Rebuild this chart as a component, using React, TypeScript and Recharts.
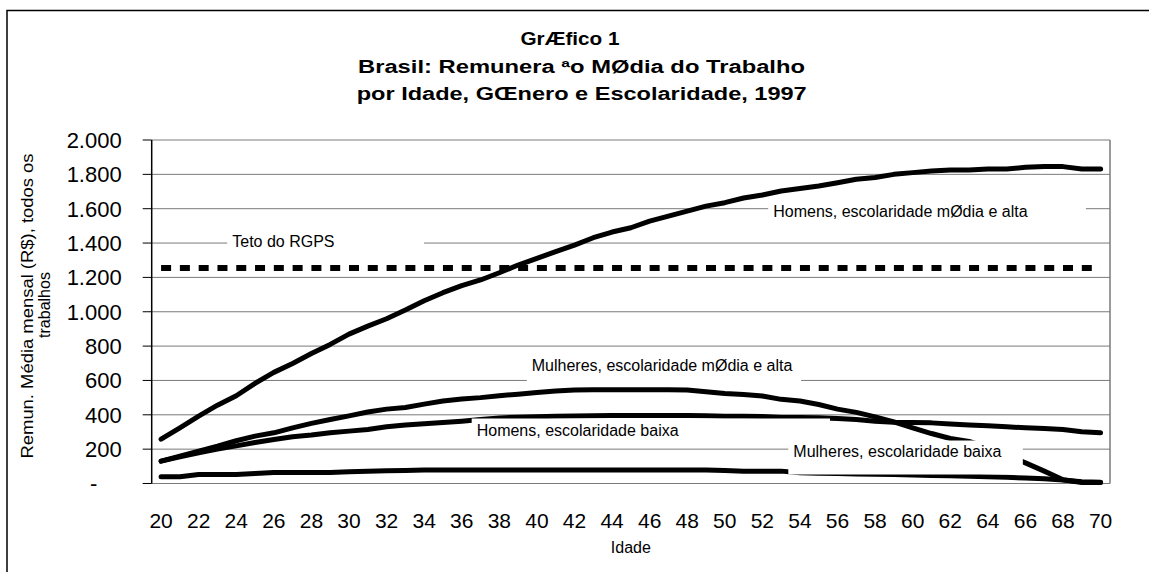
import React from 'react';
import { LineChart, Line, XAxis, YAxis, CartesianGrid, ReferenceArea, ReferenceLine } from 'recharts';

const FONT = 'Liberation Sans, Arial, Helvetica, sans-serif';

// Categories: age in years
const ages = [20, 21, 22, 23, 24, 25, 26, 27, 28, 29, 30, 31, 32, 33, 34, 35, 36, 37, 38, 39, 40, 41, 42, 43, 44, 45,
  46, 47, 48, 49, 50, 51, 52, 53, 54, 55, 56, 57, 58, 59, 60, 61, 62, 63, 64, 65, 66, 67, 68, 69, 70];

// Homens, escolaridade média e alta
const homensMediaAlta = [258, 324, 392, 456, 511, 583, 647, 699, 757, 810, 870, 916, 959, 1010, 1064, 1111, 1152, 1185,
  1227, 1272, 1311, 1350, 1388, 1431, 1464, 1489, 1528, 1557, 1586, 1615, 1635, 1662, 1680, 1703, 1718, 1732, 1751,
  1771, 1782, 1800, 1810, 1819, 1825, 1825, 1831, 1831, 1841, 1845, 1845, 1831, 1831];

// Mulheres, escolaridade média e alta
const mulheresMediaAlta = [130, 159, 188, 217, 249, 276, 295, 324, 350, 373, 394, 416, 433, 443, 462, 480, 492, 500, 511,
  520, 530, 538, 544, 546, 546, 546, 546, 546, 544, 534, 524, 518, 509, 490, 480, 460, 433, 414, 388, 359, 324, 291, 262,
  245, 210, 165, 120, 72, 22, 6, 6];

// Homens, escolaridade baixa
const homensBaixa = [130, 155, 179, 200, 219, 239, 256, 272, 282, 295, 305, 315, 330, 340, 348, 355, 363, 373, 382, 386,
  389, 391, 393, 395, 396, 396, 396, 396, 396, 394, 392, 392, 390, 384, 384, 383, 379, 373, 363, 357, 355, 353, 346, 340,
  336, 330, 324, 320, 315, 301, 295];

// Mulheres, escolaridade baixa
const mulheresBaixa = [39, 39, 52, 52, 52, 58, 64, 64, 64, 64, 68, 72, 74, 76, 78, 78, 78, 78, 78, 78, 78, 78, 78, 78, 78,
  78, 78, 78, 78, 78, 76, 72, 72, 72, 62, 60, 58, 56, 54, 52, 50, 47, 45, 42, 40, 36, 32, 28, 20, 10, 8];

// Teto do RGPS
const tetoRGPS = 1255;

const yTicks = [0, 200, 400, 600, 800, 1000, 1200, 1400, 1600, 1800, 2000];
const xLabelTicks = [20, 22, 24, 26, 28, 30, 32, 34, 36, 38, 40, 42, 44, 46, 48, 50, 52, 54, 56, 58, 60, 62, 64, 66, 68, 70];

const titleLines = [
  'GrÆfico 1',
  'Brasil: Remunera ªo MØdia do Trabalho',
  'por Idade, GŒnero e Escolaridade, 1997',
];
const yLabelLines = ['Remun. Média mensal (R$), todos os', 'trabalhos'];
const xLabel = 'Idade';

// Series annotations (text boxes placed in data space)
const annotations = [
  { text: 'Teto do RGPS', x1: 23.52, x2: 33.99, y1: 1320, y2: 1470, off: 16.3 },
  { text: 'Homens, escolaridade mØdia e alta', x1: 52.31, x2: 69.22, y1: 1517, y2: 1650, off: 17.2 },
  { text: 'Mulheres, escolaridade mØdia e alta', x1: 39.46, x2: 54.06, y1: 575, y2: 735, off: 13.4 },
  { text: 'Homens, escolaridade baixa', x1: 36.53, x2: 55.6, y1: 220, y2: 378, off: 17.4 },
  { text: 'Mulheres, escolaridade baixa', x1: 53.38, x2: 65.86, y1: 52, y2: 250, off: 16.1 },
];

const data = ages.map((age, i) => ({
  age,
  hma: homensMediaAlta[i],
  mma: mulheresMediaAlta[i],
  hb: homensBaixa[i],
  mb: mulheresBaixa[i],
  teto: tetoRGPS,
}));

const boundaryTicks = [...ages.map((a) => a - 0.5), ages[ages.length - 1] + 0.5];

const fmtY = (v: number) => {
  if (v === 0) return '-\u00a0\u00a0\u00a0\u00a0';
  if (v >= 1000) return `${Math.floor(v / 1000)}.${String(v % 1000).padStart(3, '0')}`;
  return String(v);
};

const annLabel = (text: string, off: number) => (props: any) => {
  const vb = props.viewBox || { x: 0, y: 0 };
  return (
    <text x={vb.x + 5} y={vb.y + off} fontSize={16} fontFamily={FONT} fill="#000">
      {text}
    </text>
  );
};

const lineCommon = {
  type: 'linear' as const,
  stroke: '#000',
  strokeWidth: 5,
  dot: false,
  activeDot: false,
  isAnimationActive: false,
  xAxisId: 'lab',
  strokeLinecap: 'round' as const,
  strokeLinejoin: 'round' as const,
};

export default function App() {
  return (
    <div style={{ position: 'absolute', left: 0, top: 0, width: 1149, height: 572, background: '#fff' }}>
      <LineChart width={1149} height={572} data={data} margin={{ top: 140, right: 39, left: 0, bottom: 0 }}>
        <CartesianGrid xAxisId="lab" vertical={false} stroke="#7a7a7a" strokeWidth={1} />
        <XAxis
          xAxisId="tk"
          dataKey="age"
          type="number"
          domain={[19.5, 70.5]}
          ticks={boundaryTicks}
          interval={0}
          height={0}
          tickSize={9}
          tick={() => <g />}
          axisLine={{ stroke: '#000', strokeWidth: 1.5 }}
          tickLine={{ stroke: '#000', strokeWidth: 1 }}
        />
        <XAxis
          xAxisId="lab"
          dataKey="age"
          type="number"
          domain={[19.5, 70.5]}
          ticks={xLabelTicks}
          interval={0}
          height={88.5}
          tickSize={0}
          tickMargin={30}
          tickLine={false}
          axisLine={false}
          tick={{ fontSize: 21, fontFamily: FONT, fill: '#000' }}
          label={{ value: xLabel, position: 'insideBottom', offset: 18.7, fontSize: 16, fontFamily: FONT, fill: '#000' }}
        />
        <YAxis
          type="number"
          domain={[0, 2000]}
          ticks={yTicks}
          interval={0}
          width={151.7}
          tickSize={9}
          tickMargin={21}
          tickFormatter={fmtY}
          tick={{ fontSize: 22, fontFamily: FONT, fill: '#000' }}
          axisLine={{ stroke: '#000', strokeWidth: 1.5 }}
          tickLine={{ stroke: '#000', strokeWidth: 1 }}
        />
        <ReferenceLine xAxisId="lab" x={70.5} stroke="#7a7a7a" strokeWidth={1.5} />
        <Line {...lineCommon} dataKey="teto" strokeWidth={6} strokeLinecap="butt" strokeDasharray="10 8.79" />
        <Line {...lineCommon} dataKey="hma" />
        <Line {...lineCommon} dataKey="mma" />
        <Line {...lineCommon} dataKey="hb" />
        <Line {...lineCommon} dataKey="mb" />
        {annotations.map((a) => (
          <ReferenceArea
            key={a.text}
            xAxisId="lab"
            x1={a.x1}
            x2={a.x2}
            y1={a.y1}
            y2={a.y2}
            fill="#fff"
            fillOpacity={1}
            stroke="none"
            zIndex={900}
            label={annLabel(a.text, a.off)}
          />
        ))}
      </LineChart>
      <svg
        width={1149}
        height={572}
        style={{ position: 'absolute', left: 0, top: 0, pointerEvents: 'none' }}
      >
        <rect x={7} y={10.5} width={1160} height={600} fill="none" stroke="#000" strokeWidth={1.5} />
        <text x={570} y={45} textAnchor="middle" fontFamily={FONT} fontWeight="bold" fontSize={18}
          textLength={99} lengthAdjust="spacingAndGlyphs">{titleLines[0]}</text>
        <text x={581.5} y={72.7} textAnchor="middle" fontFamily={FONT} fontWeight="bold" fontSize={18}
          textLength={447} lengthAdjust="spacingAndGlyphs">{titleLines[1]}</text>
        <text x={581.7} y={100} textAnchor="middle" fontFamily={FONT} fontWeight="bold" fontSize={18}
          textLength={450} lengthAdjust="spacingAndGlyphs">{titleLines[2]}</text>
        <text transform="translate(33.3,306) rotate(-90)" textAnchor="middle" fontFamily={FONT} fontSize={16}
          textLength={305} lengthAdjust="spacingAndGlyphs">{yLabelLines[0]}</text>
        <text transform="translate(50,305) rotate(-90)" textAnchor="middle" fontFamily={FONT} fontSize={16}>
          {yLabelLines[1]}
        </text>
      </svg>
    </div>
  );
}
